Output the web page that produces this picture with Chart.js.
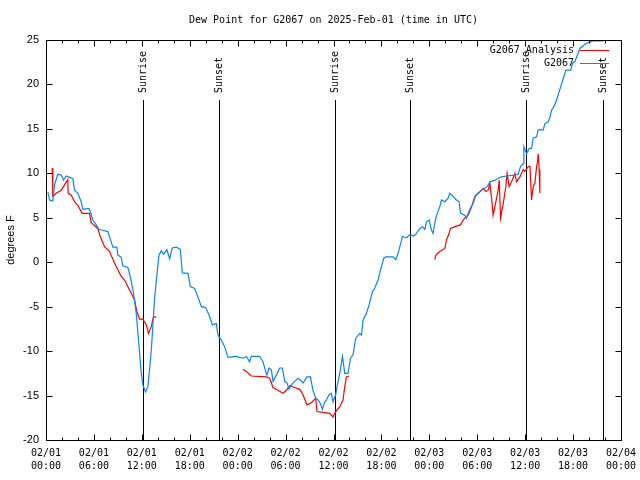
<!DOCTYPE html>
<html>
<head>
<meta charset="utf-8">
<script src="https://cdn.jsdelivr.net/npm/chart.js@4/dist/chart.umd.min.js"></script>
<style>
body { margin: 0; background: #fff; }
#wrap { width: 640px; height: 480px; }
</style>
</head>
<body>
<div id="wrap"><canvas id="dewChart" width="640" height="480"></canvas></div>
<script>
// hours since 2025-02-01 00:00 UTC
const obsHours = [0.23, 0.44, 0.85, 1.07, 1.48, 1.90, 2.19, 2.53, 3.36, 3.57, 3.98, 4.41, 4.61, 5.36, 5.54, 5.86, 6.29, 6.62, 7.12, 7.74,
  8.05, 8.37, 8.87, 9.0, 9.42, 9.62, 10.25, 10.55, 10.96, 11.3, 11.72, 11.93, 12.13, 12.47, 12.76, 13.18, 13.6, 13.88, 14.14, 14.44,
  14.72, 15.14, 15.48, 15.81, 16.32, 16.82, 17.07, 17.77, 18.07, 18.61, 19.02, 19.45, 19.99, 20.49, 20.83, 21.33, 21.53, 21.95, 22.37, 22.78,
  23.83, 24.66, 25.09, 25.5, 25.71, 26.75, 27.17, 27.51, 27.67, 27.92, 28.22, 28.42, 28.85, 29.26, 29.6, 29.89, 30.18, 30.43, 30.73, 31.14,
  31.55, 31.85, 32.18, 32.68, 33.11, 33.43, 33.77, 34.06, 34.36, 34.61, 34.9, 35.11, 35.44, 35.74, 35.94, 36.28, 36.44, 36.78, 37.12, 37.41,
  37.82, 38.12, 38.45, 38.78, 39.29, 39.5, 39.7, 40.13, 40.45, 40.88, 41.17, 41.58, 41.88, 42.29, 42.54, 43.46, 43.8, 44.09, 44.64, 45.14,
  45.55, 46.05, 46.39, 46.8, 47.14, 47.43, 47.64, 47.97, 48.27, 48.47, 48.68, 48.9, 49.31, 49.52, 49.94, 50.35, 50.56, 50.98, 51.4, 51.73,
  51.9, 52.44, 52.66, 52.86, 53.16, 53.48, 53.82, 54.32, 54.74, 55.24, 55.58, 56.2, 56.62, 57.04, 57.67, 58.71, 59.12, 59.42, 59.75, 59.84,
  60.18, 60.5, 60.8, 61.0, 61.43, 61.63, 62.26, 62.47, 62.88, 63.1, 63.31, 63.6, 63.93, 64.26, 64.56, 64.85, 65.1, 65.69, 65.94, 66.23,
  66.64, 66.85, 67.19, 67.61, 68.52, 69.77];
const obsValues = [7.9, 7.0, 6.9, 8.7, 9.9, 9.8, 9.25, 9.7, 9.4, 8.1, 7.75, 6.8, 5.95, 6.05, 5.7, 4.75, 4.2, 3.7, 3.6, 3.45,
  2.6, 1.7, 1.7, 0.8, 0.55, -0.4, -0.6, -1.6, -3.5, -5.75, -10.2, -12.5, -13.8, -14.6, -14.0, -10.0, -4.0, -1.5, 0.8, 1.3,
  0.9, 1.4, 0.4, 1.6, 1.7, 1.45, -1.2, -1.25, -2.75, -2.95, -3.9, -5.0, -5.1, -6.1, -7.05, -6.9, -8.2, -8.75, -9.5, -10.7,
  -10.6, -10.8, -10.6, -11.2, -10.6, -10.6, -11.2, -12.3, -12.7, -11.9, -12.1, -13.4, -12.7, -11.9, -11.9, -13.4, -13.6, -14.3, -13.8, -13.4,
  -13.05, -13.25, -13.6, -12.9, -12.9, -14.4, -15.3, -15.5, -15.9, -16.55, -15.7, -15.5, -14.9, -14.75, -15.7, -14.9, -14.0, -12.5, -10.6, -12.5,
  -12.5, -10.8, -10.4, -8.55, -8.0, -8.2, -6.5, -5.75, -4.8, -3.3, -2.9, -2.0, -0.9, 0.45, 0.6, 0.6, 0.3, 1.0, 2.9, 2.75,
  3.1, 2.95, 3.25, 3.8, 4.0, 3.7, 4.55, 4.75, 3.6, 3.25, 4.4, 5.3, 6.25, 7.0, 6.8, 7.2, 7.75, 7.4, 7.0, 6.8,
  5.5, 5.3, 4.95, 5.5, 6.1, 6.6, 7.55, 7.95, 8.2, 8.5, 9.05, 9.2, 9.45, 9.6, 9.7, 9.8, 9.9, 10.75, 11.1, 13.0,
  12.2, 12.8, 12.8, 13.95, 14.1, 14.9, 14.9, 15.6, 15.8, 16.3, 17.1, 17.5, 18.25, 19.2, 20.1, 20.9, 21.6, 21.6, 22.4, 22.6,
  23.5, 24.05, 24.3, 24.6, 24.9, 24.9];

// analysis series, null marks a gap
const anaHours = [0.78, 0.85, 1.28, 1.9, 2.32, 2.73, 2.77, 3.16, 3.57, 3.98, 4.54, 5.45, 5.66, 6.49, 6.79, 7.33, 7.96, 8.58, 9.42, 9.84,
  10.25, 10.68, 11.09, 11.38, 11.72, 12.13, 12.56, 12.84, 13.18, 13.47, 13.81, 19.0,
  24.66, 25.09, 25.71, 27.59, 28.01, 28.42, 29.05, 29.67, 30.1, 30.51, 31.14, 31.77, 32.18, 32.68, 33.23, 33.77, 33.94, 34.69,
  35.53, 35.94, 36.28, 36.78, 37.19, 37.41, 37.62, 37.94, 43.0,
  48.68, 48.81, 49.31, 49.94, 50.15, 50.48, 50.65, 51.19, 51.9, 52.24, 52.57, 52.86, 53.28, 53.7, 54.11, 54.54, 54.74, 55.08, 55.36, 55.58,
  55.79, 55.99, 56.33, 56.62, 56.75, 56.92, 57.25, 57.58, 57.74, 57.99, 58.3, 58.71, 58.92, 59.34, 59.75, 59.96, 60.38, 60.6, 60.8, 61.0,
  61.22, 61.43, 61.55, 61.63, 61.76, 61.84];
const anaValues = [10.6, 7.4, 7.75, 8.1, 8.7, 9.3, 7.75, 7.55, 6.8, 6.4, 5.5, 5.5, 4.45, 3.8, 2.9, 1.75, 1.2, -0.1, -1.6, -2.0,
  -2.75, -3.5, -4.25, -5.55, -6.4, -6.4, -7.05, -8.0, -7.25, -6.1, -6.2, null,
  -12.05, -12.3, -12.8, -12.9, -13.05, -14.1, -14.4, -14.75, -14.4, -13.9, -14.1, -14.3, -14.9, -16.05, -15.8, -15.3, -16.8, -16.9,
  -17.0, -17.4, -16.8, -16.25, -15.5, -14.0, -12.9, -12.8, null,
  0.3, 0.8, 1.2, 1.55, 2.5, 3.25, 3.8, 4.0, 4.2, 4.75, 5.1, 5.3, 6.2, 7.4, 7.75, 8.1, 8.3, 7.95, 8.1, 8.9,
  7.2, 5.3, 6.8, 8.1, 9.25, 4.95, 6.6, 8.5, 10.0, 8.5, 9.05, 10.0, 9.05, 9.6, 10.45, 10.2, 10.75, 10.8, 7.0, 8.5,
  8.9, 10.75, 11.3, 12.2, 10.4, 7.75];

const sunHours = [12.12, 21.72, 36.15, 45.64, 60.1, 69.74];
const sunLabels = ['Sunrise', 'Sunset', 'Sunrise', 'Sunset', 'Sunrise', 'Sunset'];

const dateTicks = ['02/01', '02/01', '02/01', '02/01', '02/02', '02/02', '02/02', '02/02', '02/03', '02/03', '02/03', '02/03', '02/04'];
const timeTicks = ['00:00', '06:00', '12:00', '18:00', '00:00', '06:00', '12:00', '18:00', '00:00', '06:00', '12:00', '18:00', '00:00'];

const chartTitle = 'Dew Point for G2067 on 2025-Feb-01 (time in UTC)';

const monoFont = '"DejaVu Sans Mono", monospace';
const sansFont = '"Liberation Sans", Arial, sans-serif';

const toPoints = (xs, ys) => xs.map((h, i) => ({ x: h, y: ys[i] }));

// gnuplot style title, frame, inward ticks, sun markers and key
const gnuplotDecor = {
    id: 'gnuplotDecor',
    beforeDatasetsDraw(chart) {
        const { ctx, chartArea: a, scales: { x } } = chart;
        ctx.save();
        ctx.strokeStyle = '#000';
        ctx.fillStyle = '#000';
        ctx.lineWidth = 1;
        ctx.font = '10px ' + monoFont;

        ctx.textAlign = 'center';
        ctx.textBaseline = 'middle';
        ctx.fillText(chartTitle, (a.left + a.right) / 2, 20);

        sunHours.forEach((h, i) => {
            const px = Math.round(x.getPixelForValue(h)) + 0.5;
            ctx.beginPath();
            ctx.moveTo(px, a.top + 60);
            ctx.lineTo(px, a.bottom);
            ctx.stroke();
            ctx.save();
            ctx.translate(px, a.top + 53);
            ctx.rotate(-Math.PI / 2);
            ctx.textAlign = 'left';
            ctx.textBaseline = 'middle';
            ctx.fillText(sunLabels[i], 0, 0);
            ctx.restore();
        });
        ctx.restore();
    },
    afterDatasetsDraw(chart) {
        const { ctx, chartArea: a, scales: { x, y } } = chart;
        const l = Math.round(a.left) + 0.5, r = Math.round(a.right) + 0.5;
        const t = Math.round(a.top) + 0.5, b = Math.round(a.bottom) + 0.5;
        ctx.save();
        ctx.strokeStyle = '#000';
        ctx.lineWidth = 1;
        ctx.strokeRect(l, t, r - l, b - t);
        ctx.beginPath();
        x.ticks.forEach(tk => {
            const px = Math.round(x.getPixelForValue(tk.value)) + 0.5;
            const len = tk.value % 6 === 0 ? 6 : 3;
            ctx.moveTo(px, b); ctx.lineTo(px, b - len);
            ctx.moveTo(px, t); ctx.lineTo(px, t + len);
        });
        y.ticks.forEach(tk => {
            const py = Math.round(y.getPixelForValue(tk.value)) + 0.5;
            ctx.moveTo(l, py); ctx.lineTo(l + 6, py);
            ctx.moveTo(r, py); ctx.lineTo(r - 6, py);
        });
        ctx.stroke();

        // key
        ctx.font = '10px ' + monoFont;
        ctx.textAlign = 'right';
        ctx.textBaseline = 'middle';
        chart.data.datasets.forEach((ds, i) => {
            const ky = a.top + 10 + i * 13;
            ctx.fillStyle = '#000';
            ctx.fillText(ds.label, a.right - 47, ky);
            ctx.strokeStyle = ds.borderColor;
            ctx.beginPath();
            ctx.moveTo(a.right - 41, Math.round(ky) + 0.5);
            ctx.lineTo(a.right - 12, Math.round(ky) + 0.5);
            ctx.stroke();
        });
        ctx.restore();
    }
};

new Chart(document.getElementById('dewChart'), {
    type: 'line',
    data: {
        datasets: [{
            label: 'G2067 Analysis',
            data: toPoints(anaHours, anaValues),
            borderColor: '#ff0000',
            borderWidth: 1.2,
            pointRadius: 0,
            spanGaps: false,
            order: 1
        }, {
            label: 'G2067',
            data: toPoints(obsHours, obsValues),
            borderColor: '#0a84ff',
            borderWidth: 1.2,
            pointRadius: 0,
            order: 0
        }]
    },
    options: {
        responsive: false,
        animation: false,
        layout: { padding: { left: 0, right: 19, top: 40, bottom: 0 } },
        plugins: {
            legend: { display: false },
            tooltip: { enabled: false },
            title: { display: false }
        },
        scales: {
            x: {
                type: 'linear',
                min: 0,
                max: 72,
                grid: { display: false, drawTicks: false },
                border: { display: false },
                ticks: {
                    stepSize: 2,
                    autoSkip: false,
                    maxRotation: 0,
                    padding: 7,
                    color: '#000',
                    font: { family: monoFont, size: 10, lineHeight: 1.3 },
                    callback: v => v % 6 === 0 ? [dateTicks[v / 6], timeTicks[v / 6]] : ''
                },
                afterFit: s => { s.height = 40; s.paddingLeft = 0; s.paddingRight = 0; }
            },
            y: {
                min: -20,
                max: 25,
                grid: { display: false, drawTicks: false },
                border: { display: false },
                ticks: {
                    stepSize: 5,
                    padding: 7,
                    color: '#000',
                    font: { family: sansFont, size: 11 }
                },
                title: {
                    display: true,
                    text: 'degrees F',
                    color: '#000',
                    font: { family: sansFont, size: 11 },
                    padding: { top: 4, bottom: 0 }
                },
                afterFit: s => { s.width = 46; s.paddingTop = 0; s.paddingBottom = 0; }
            }
        }
    },
    plugins: [gnuplotDecor]
});
</script>
</body>
</html>
